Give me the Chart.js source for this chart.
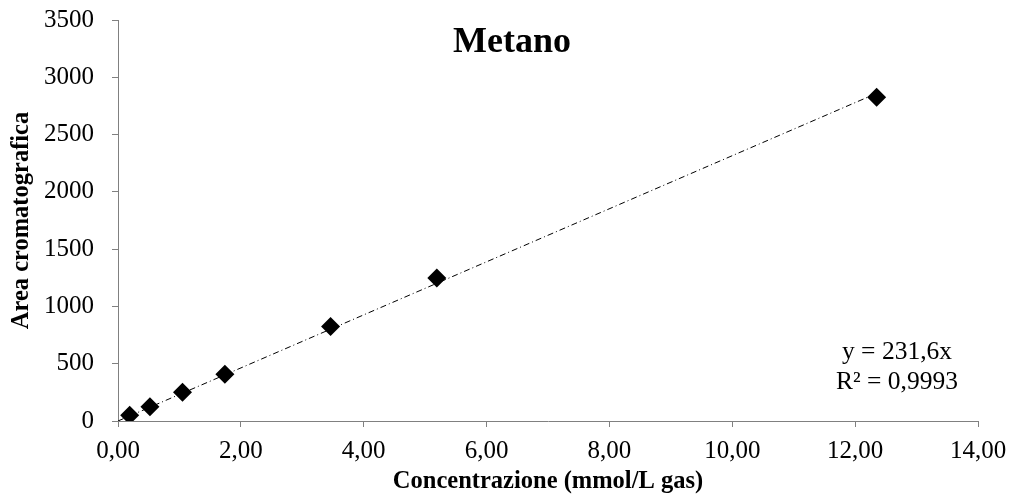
<!DOCTYPE html>
<html>
<head>
<meta charset="utf-8">
<script src="https://cdn.jsdelivr.net/npm/chart.js@4"></script>
<style>
  html, body { margin: 0; padding: 0; background: #fff; }
  #wrap { width: 1013px; height: 500px; position: relative; }
</style>
</head>
<body>
<div id="wrap"><canvas id="chart"></canvas></div>
<script>
// Calibration data - Metano
const concX = [0.19, 0.52, 1.05, 1.74, 3.46, 5.19, 12.35];
const areaY = [50, 125, 252, 408, 825, 1248, 2825];

// Linear trend line (y = 231,6x), endpoints
const trendX = [0, 12.35];
const trendY = [0, 2860];

const xTicks = [0, 2, 4, 6, 8, 10, 12, 14];
const yTicks = [0, 500, 1000, 1500, 2000, 2500, 3000, 3500];

const titleText = 'Metano';
const eqLines = ['y = 231,6x', 'R\u00b2 = 0,9993'];

const FONT = "'Liberation Serif', 'Times New Roman', serif";

// Title and regression text sit inside the plot area
const overlayText = {
    id: 'overlayText',
    afterDraw(chart) {
        const c = chart.ctx;
        c.save();
        c.fillStyle = '#000';
        c.textAlign = 'center';
        c.textBaseline = 'alphabetic';
        c.font = 'bold 36px ' + FONT;
        c.fillText(titleText, 512, 52);
        c.font = '25.5px ' + FONT;
        c.fillText(eqLines[0], 897, 359);
        c.fillText(eqLines[1], 897, 389);
        c.restore();
    }
};

new Chart(document.getElementById('chart'), {
    type: 'scatter',
    data: {
        datasets: [
            {
                label: 'Metano',
                data: concX.map((x, i) => ({ x: x, y: areaY[i] })),
                pointStyle: 'rectRot',
                pointRadius: 9.5,
                pointHoverRadius: 9.5,
                backgroundColor: '#000',
                borderColor: '#000',
                borderWidth: 0,
                order: 1
            },
            {
                label: 'Trend',
                type: 'line',
                data: trendX.map((x, i) => ({ x: x, y: trendY[i] })),
                borderColor: '#000',
                borderWidth: 1,
                borderDash: [6, 3, 1, 3],
                pointRadius: 0,
                fill: false,
                order: 2
            }
        ]
    },
    options: {
        responsive: true,
        maintainAspectRatio: false,
        animation: false,
        layout: { padding: { top: 20, right: 35, left: 0, bottom: 0 } },
        plugins: {
            legend: { display: false },
            tooltip: { enabled: false }
        },
        scales: {
            x: {
                type: 'linear',
                min: 0,
                max: 14,
                afterBuildTicks: axis => { axis.ticks = xTicks.map(v => ({ value: v })); },
                afterFit: axis => { axis.height = 79; axis.paddingLeft = 0; axis.paddingRight = 0; },
                border: { display: true, color: '#808080', width: 1 },
                grid: { display: true, drawOnChartArea: false, drawTicks: true, tickLength: 6, color: '#808080' },
                ticks: {
                    color: '#000',
                    padding: 9,
                    maxRotation: 0,
                    font: { family: FONT, size: 25 },
                    callback: v => v.toFixed(2).replace('.', ',')
                },
                title: {
                    display: true,
                    text: 'Concentrazione (mmol/L gas)',
                    color: '#000',
                    font: { family: FONT, size: 24.5, weight: 'bold' },
                    padding: { top: 0, bottom: 4 }
                }
            },
            y: {
                type: 'linear',
                min: 0,
                max: 3500,
                afterBuildTicks: axis => { axis.ticks = yTicks.map(v => ({ value: v })); },
                afterFit: axis => { axis.width = 118; axis.paddingTop = 0; axis.paddingBottom = 0; },
                border: { display: true, color: '#808080', width: 1 },
                grid: { display: true, drawOnChartArea: false, drawTicks: true, tickLength: 6, color: '#808080' },
                ticks: {
                    color: '#000',
                    padding: 18,
                    font: { family: FONT, size: 25 },
                    callback: v => String(v)
                },
                title: {
                    display: true,
                    text: 'Area cromatografica',
                    color: '#000',
                    font: { family: FONT, size: 24.5, weight: 'bold' },
                    padding: { top: 7, bottom: 0 }
                }
            }
        }
    },
    plugins: [overlayText]
});
</script>
</body>
</html>
